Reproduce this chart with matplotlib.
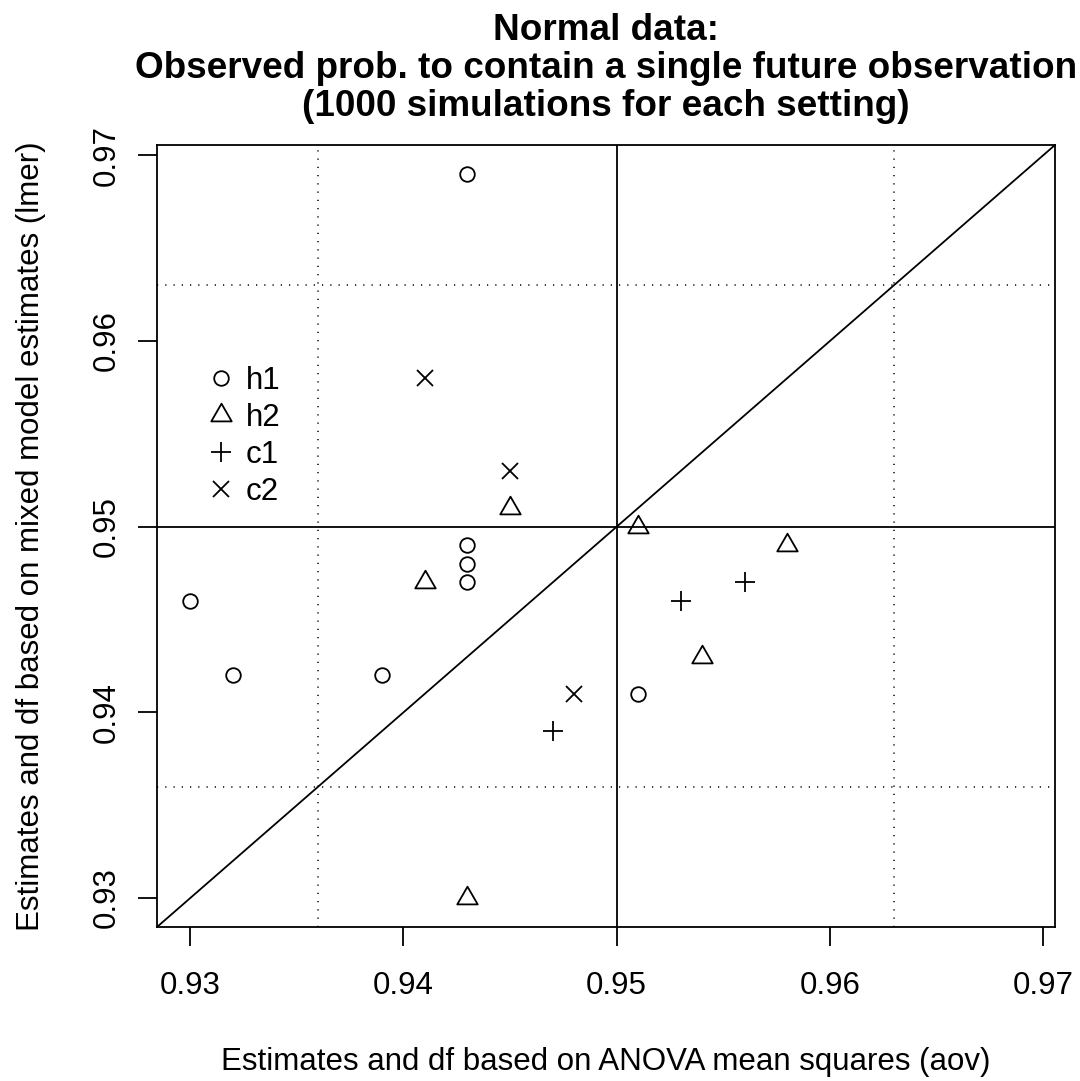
import matplotlib
matplotlib.use("Agg")
import matplotlib.pyplot as plt
from matplotlib.path import Path

# observed coverage, x = aov based, y = lmer based
h1_x = [0.943, 0.930, 0.932, 0.939, 0.943, 0.943, 0.943, 0.951]
h1_y = [0.969, 0.946, 0.942, 0.942, 0.949, 0.948, 0.947, 0.941]
h2_x = [0.945, 0.941, 0.951, 0.958, 0.954, 0.943]
h2_y = [0.951, 0.947, 0.950, 0.949, 0.943, 0.930]
c1_x = [0.953, 0.956, 0.947]
c1_y = [0.946, 0.947, 0.939]
c2_x = [0.941, 0.945, 0.948]
c2_y = [0.958, 0.953, 0.941]

ticks = [0.93, 0.94, 0.95, 0.96, 0.97]
tick_labels = ['0.93', '0.94', '0.95', '0.96', '0.97']
dotted_at = [0.936, 0.963]
lo, hi = 0.930, 0.969
pad = 0.04 * (hi - lo)

plt.rcParams['font.family'] = ['Liberation Sans', 'DejaVu Sans']

fig = plt.figure(figsize=(10.8, 10.81), dpi=100)
ax = fig.add_axes([157 / 1080, 1 - 927 / 1081, 898 / 1080, 782 / 1081])

# closed equilateral triangle like R's pch 2
tri = Path([(0, 1), (-0.866, -0.5), (0.866, -0.5), (0, 1)],
           [Path.MOVETO, Path.LINETO, Path.LINETO, Path.CLOSEPOLY])
lw = 1.3
ax.plot(h1_x, h1_y, ls='none', marker='o', ms=10.5, mfc='none', mec='black', mew=lw, label='h1')
ax.plot(h2_x, h2_y, ls='none', marker=tri, ms=17, mfc='none', mec='black', mew=lw, label='h2')
ax.plot(c1_x, c1_y, ls='none', marker='+', ms=15, mec='black', mew=lw, label='c1')
ax.plot(c2_x, c2_y, ls='none', marker='x', ms=11, mec='black', mew=lw, label='c2')

ax.set_xlim(lo - pad, hi + pad)
ax.set_ylim(lo - pad, hi + pad)

ax.axline((0.95, 0.95), slope=1, color='black', lw=lw)
ax.axvline(0.95, color='black', lw=lw)
ax.axhline(0.95, color='black', lw=lw)
for v in dotted_at:
    ax.axvline(v, color='black', lw=1.1, ls=(0, (0.8, 4.6)))
    ax.axhline(v, color='black', lw=1.1, ls=(0, (0.8, 4.6)))

ax.set_xticks(ticks)
ax.set_yticks(ticks)
ax.set_xticklabels(tick_labels)
ax.set_yticklabels(tick_labels, rotation=90, va='center')
ax.tick_params(direction='out', length=14, width=lw, labelsize=22.5)
ax.tick_params(axis='x', pad=17.5)
ax.tick_params(axis='y', pad=11.5)
for s in ax.spines.values():
    s.set_linewidth(lw)

ax.set_xlabel('Estimates and df based on ANOVA mean squares (aov)', fontsize=22.5)
ax.set_ylabel('Estimates and df based on mixed model estimates (lmer)', fontsize=22.5)
ax.xaxis.set_label_coords(0.5, (927 - 1070) / 782)
ax.yaxis.set_label_coords((31 - 157) / 898, 0.5)
ax.xaxis.label.set_va('baseline')
ax.yaxis.label.set_va('center')

fig.text(606 / 1080, 1 - 68.5 / 1081,
         'Normal data:\nObserved prob. to contain a single future observation\n(1000 simulations for each setting)',
         ha='center', va='center', fontsize=26.6, fontweight='bold', linespacing=1.12)

ax.legend(loc='upper left', bbox_to_anchor=(0.040, 0.737), frameon=False, fontsize=22.5,
          handlelength=0.8, handletextpad=0.4, labelspacing=0.22, borderpad=0)

fig.savefig('out.png', dpi=100)
